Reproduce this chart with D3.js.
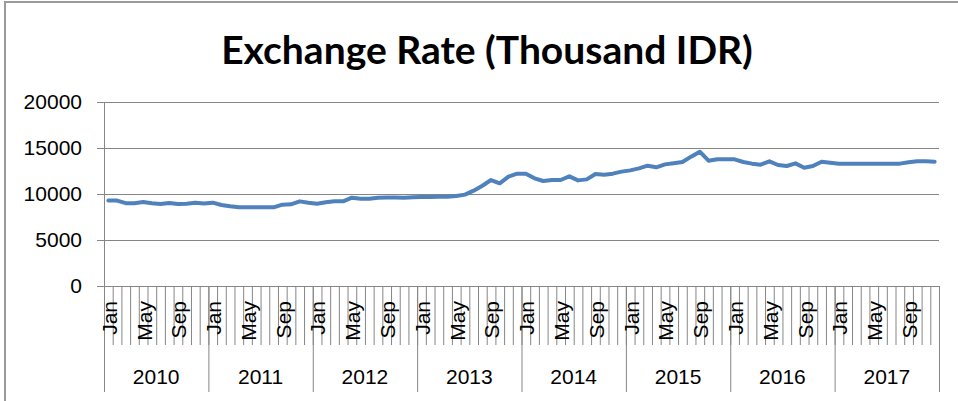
<!DOCTYPE html>
<html>
<head>
<meta charset="utf-8">
<script src="https://cdn.jsdelivr.net/npm/d3@7"></script>
<style>
  body { margin: 0; background: #fff; }
  svg { display: block; font-family: Lato, Carlito, Calibri, sans-serif; }
  .axis path, .axis line { stroke: #868686; }
  .axis text { fill: #000; }
</style>
</head>
<body>
<div id="chart"></div>
<script>
// data
const years = ["2010", "2011", "2012", "2013", "2014", "2015", "2016", "2017"];
const months = ["Jan", "Feb", "Mar", "Apr", "May", "Jun", "Jul", "Aug", "Sep", "Oct", "Nov", "Dec"];
const monthLabels = ["Jan", "May", "Sep"];
const yTicks = [0, 5000, 10000, 15000, 20000];

const rate2010 = [9300, 9280, 9000, 9000, 9130, 9000, 8920, 9020, 8920, 8950, 9060, 8960];
const rate2011 = [9060, 8800, 8660, 8550, 8550, 8550, 8550, 8550, 8840, 8880, 9200, 9060];
const rate2012 = [8950, 9100, 9200, 9200, 9600, 9480, 9480, 9600, 9630, 9630, 9600, 9640];
const rate2013 = [9680, 9680, 9690, 9700, 9780, 9930, 10360, 10900, 11520, 11160, 11880, 12210];
const rate2014 = [12210, 11700, 11410, 11520, 11520, 11920, 11480, 11590, 12170, 12100, 12210, 12430];
const rate2015 = [12570, 12790, 13080, 12900, 13220, 13350, 13480, 14060, 14600, 13620, 13770, 13770];
const rate2016 = [13770, 13480, 13300, 13190, 13550, 13150, 13040, 13330, 12860, 13040, 13510, 13400];
const rate2017 = [13300, 13300, 13300, 13300, 13300, 13300, 13300, 13300, 13440, 13550, 13550, 13510];

const rates = [rate2010, rate2011, rate2012, rate2013, rate2014, rate2015, rate2016, rate2017];

// one row per month
let data = [];
years.forEach((yr, i) => {
    months.forEach((m, j) => {
        data.push({ key: yr + "-" + m, year: yr, month: m, value: rates[i][j] });
    });
});

const W = 958, H = 401;
const margin = { top: 102, right: 19, bottom: 115, left: 104 };
const width = W - margin.left - margin.right,
    height = H - margin.top - margin.bottom;

const svg = d3.select("#chart").append("svg")
    .attr("width", W)
    .attr("height", H);

// outer chart border (runs off the right and bottom of the picture)
svg.append("rect")
    .attr("x", 5).attr("y", 2)
    .attr("width", W + 20).attr("height", H + 20)
    .attr("fill", "none")
    .attr("stroke", "#9a9a9a")
    .attr("stroke-width", 2);

svg.append("text")
    .attr("x", 487)
    .attr("y", 64)
    .attr("text-anchor", "middle")
    .style("font-size", "39px")
    .style("font-weight", "bold")
    .text("Exchange Rate (Thousand IDR)");

const g = svg.append("g")
    .attr("transform", "translate(" + margin.left + "," + margin.top + ")");

// scales
const x = d3.scaleBand()
    .domain(data.map(d => d.key))
    .range([0, width])
    .padding(0);

const xIdx = d3.scaleLinear()
    .domain([0, data.length])
    .range([0, width]);

const xYear = d3.scaleBand()
    .domain(years)
    .range([0, width]);

const y = d3.scaleLinear()
    .domain([0, 20000])
    .range([height, 0]);

// horizontal gridlines
g.append("g")
    .attr("class", "axis grid")
    .call(d3.axisLeft(y).tickValues(yTicks).tickSize(-width).tickFormat(""))
    .call(a => a.select(".domain").remove());

// y axis with outward ticks and labels
g.append("g")
    .attr("class", "axis y-axis")
    .call(d3.axisLeft(y).tickValues(yTicks).tickFormat(d3.format("d"))
        .tickSizeInner(7).tickSizeOuter(0).tickPadding(15))
    .call(a => a.selectAll("text").style("font-size", "21px"));

// month separators below the plot
g.append("g")
    .attr("class", "axis month-sep")
    .attr("transform", "translate(0," + height + ")")
    .call(d3.axisBottom(xIdx).tickValues(d3.range(data.length + 1)).tickSize(59).tickFormat(""));

// year separators
g.append("g")
    .attr("class", "axis year-sep")
    .attr("transform", "translate(0," + height + ")")
    .call(d3.axisBottom(xIdx).tickValues(d3.range(0, data.length + 1, 12)).tickSize(106).tickFormat(""))
    .call(a => a.select(".domain").remove());

// month labels (Jan, May, Sep)
g.append("g")
    .attr("class", "axis month-labels")
    .attr("transform", "translate(0," + height + ")")
    .call(d3.axisBottom(x)
        .tickValues(data.filter(d => monthLabels.includes(d.month)).map(d => d.key))
        .tickSize(0)
        .tickFormat(k => k.split("-")[1]))
    .call(a => a.select(".domain").remove())
    .call(a => a.selectAll("text")
        .attr("transform", "rotate(-90)")
        .attr("x", -15)
        .attr("y", 1)
        .attr("dy", "0.35em")
        .style("text-anchor", "end")
        .style("font-size", "21px"));

// year labels
g.append("g")
    .attr("class", "axis year-labels")
    .attr("transform", "translate(0," + height + ")")
    .call(d3.axisBottom(xYear).tickSize(0))
    .call(a => a.select(".domain").remove())
    .call(a => a.selectAll("text")
        .attr("y", 91)
        .attr("dy", "0.35em")
        .style("font-size", "21px"));

// the line
const line = d3.line()
    .x(d => x(d.key) + x.bandwidth() / 2)
    .y(d => y(d.value));

g.append("path")
    .datum(data)
    .attr("fill", "none")
    .attr("stroke", "#4F81BD")
    .attr("stroke-width", 4)
    .attr("stroke-linejoin", "round")
    .attr("stroke-linecap", "round")
    .attr("d", line);
</script>
</body>
</html>
